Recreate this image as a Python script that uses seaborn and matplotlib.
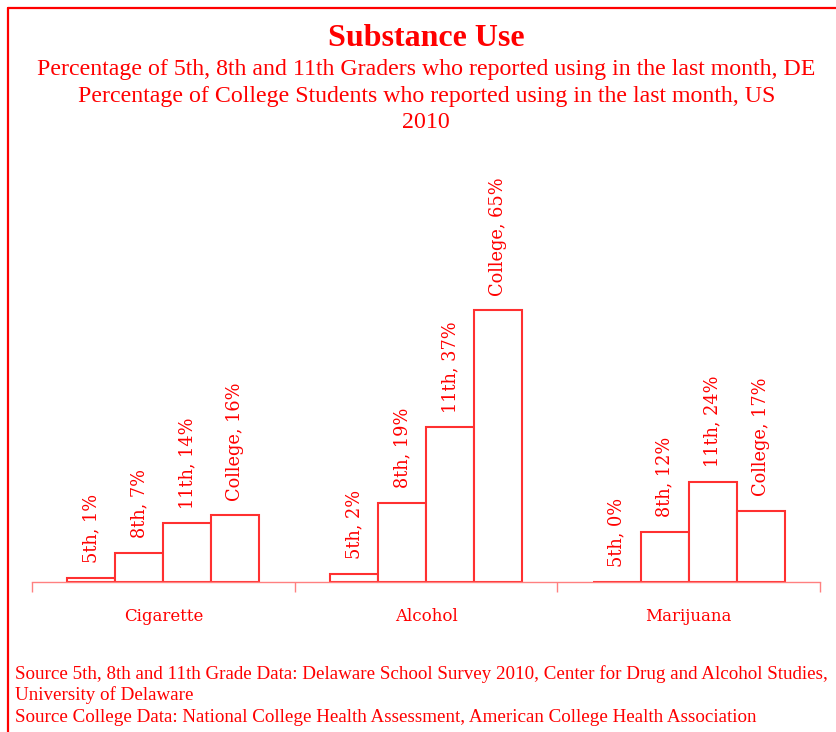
import matplotlib
matplotlib.use('Agg')
import matplotlib.pyplot as plt
from matplotlib.lines import Line2D
import seaborn as sns
import pandas as pd

substances = ['Cigarette', 'Alcohol', 'Marijuana']
grades = ['5th', '8th', '11th', 'College']
cigarette = [1, 7, 14, 16]
alcohol = [2, 19, 37, 65]
marijuana = [0, 12, 24, 17]

title = 'Substance Use'
subtitle_lines = [
    'Percentage of 5th, 8th and 11th Graders who reported using in the last month, DE',
    'Percentage of College Students who reported using in the last month, US',
    '2010',
]
source_lines = [
    'Source 5th, 8th and 11th Grade Data: Delaware School Survey 2010, Center for Drug and Alcohol Studies,',
    'University of Delaware',
    'Source College Data: National College Health Assessment, American College Health Association',
]

rows = []
for s, vals in zip(substances, [cigarette, alcohol, marijuana]):
    for g, v in zip(grades, vals):
        rows.append({'Substance': s, 'Grade': g, 'Percent': v})
df = pd.DataFrame(rows)

RED = '#ff0000'
BAR_RED = '#ff3030'
AXIS_RED = '#ff8080'

sns.set_style('white')
plt.rcParams['font.family'] = ['DejaVu Serif']

W, H = 836, 732
fig = plt.figure(figsize=(W / 100, H / 100), dpi=100)
ax = fig.add_axes([32 / W, 1 - 582 / H, 788 / W, 334.4 / H])
ax.set_facecolor('none')

sns.barplot(data=df, x='Substance', y='Percent', hue='Grade',
            order=substances, hue_order=grades,
            palette=['white'] * len(grades), edgecolor=BAR_RED,
            linewidth=1.5, width=0.73, legend=False, errorbar=None,
            saturation=1, ax=ax)

for grade, cont in zip(grades, ax.containers):
    for bar in cont:
        h = bar.get_height()
        ax.annotate(f'{grade}, {h:.0f}%',
                    xy=(bar.get_x() + bar.get_width() / 2, h),
                    xytext=(0, 10.5), textcoords='offset points',
                    rotation=90, ha='center', va='bottom',
                    color=RED, fontsize=12.8, family='DejaVu Serif',
                    annotation_clip=False)

ax.set_xlim(-0.5, 2.5)
ax.set_ylim(0, 80)
ax.set_yticks([])
ax.set_xlabel('')
ax.set_ylabel('')
for side in ['left', 'top', 'right']:
    ax.spines[side].set_visible(False)
ax.spines['bottom'].set_color(AXIS_RED)
ax.spines['bottom'].set_linewidth(1.0)
ax.set_xticks(range(len(substances)))
ax.set_xticklabels(substances)
ax.set_xticks([-0.5, 0.5, 1.5, 2.5], minor=True)
ax.tick_params(axis='x', which='major', bottom=True, length=0, pad=19,
               labelsize=12, labelcolor=RED)
ax.tick_params(axis='x', which='minor', bottom=True, length=7, width=1.0,
               color=AXIS_RED, direction='out')

serif = ['Liberation Serif', 'DejaVu Serif']
fig.text(0.51, 1 - 46 / H, title, ha='center', va='baseline',
         fontsize=23, fontweight='bold', color=RED, family=serif)
for y, line in zip([75, 102, 128], subtitle_lines):
    fig.text(0.51, 1 - y / H, line, ha='center', va='baseline',
             fontsize=17.2, color=RED, family=serif)
for y, line in zip([679, 700, 722], source_lines):
    fig.text(15 / W, 1 - y / H, line, ha='left', va='baseline',
             fontsize=13.7, color=RED, family=serif)

# frame border (left and top)
fig.add_artist(Line2D([8 / W, 8 / W], [0, 1 - 8 / H], transform=fig.transFigure,
                      color=RED, linewidth=1.6))
fig.add_artist(Line2D([8 / W, 1], [1 - 8 / H, 1 - 8 / H], transform=fig.transFigure,
                      color=RED, linewidth=1.6))

fig.savefig('out.png', dpi=100)
